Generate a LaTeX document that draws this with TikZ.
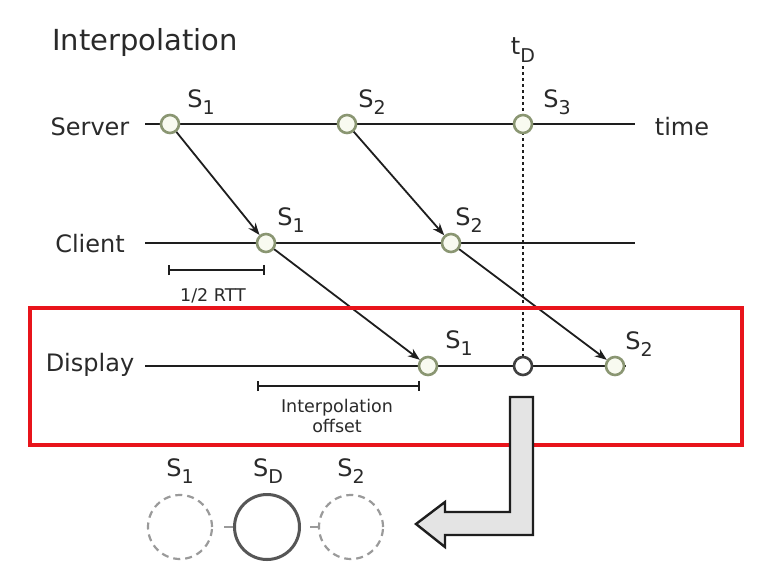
\documentclass[tikz,border=0pt]{standalone}
\usepackage{fontspec}
\setmainfont{DejaVu Sans}
\usetikzlibrary{arrows.meta}
\pgfdeclarelayer{bg}
\pgfsetlayers{bg,main}
\definecolor{txt}{HTML}{2A2A2A}
\definecolor{linec}{HTML}{1E1E1E}
\definecolor{cgreen}{HTML}{8A9672}
\definecolor{cfill}{HTML}{F8FAF0}
\definecolor{dgray}{HTML}{9A9A9A}
\definecolor{redbox}{HTML}{E8141B}
\definecolor{arrfill}{HTML}{E4E4E4}
\newcommand\subs[1]{\raisebox{-0.3em}{\fontsize{19}{19}\selectfont #1}}
\tikzset{
  lbl/.style={font=\fontsize{24}{28}\selectfont, text=txt, inner sep=0pt},
  ttl/.style={font=\fontsize{29}{32}\selectfont, text=txt, inner sep=0pt},
  small/.style={font=\fontsize{17.5}{22}\selectfont, text=txt, inner sep=0pt, align=center},
  sv/.style={circle, draw=cgreen, fill=cfill, line width=2.6pt, minimum size=18pt, inner sep=0pt},
  svd/.style={circle, draw=linec!85, fill=white, line width=2.6pt, minimum size=18pt, inner sep=0pt},
  timeline/.style={draw=linec, line width=2.6pt},
  msg/.style={draw=linec, line width=1.8pt, -{Stealth[length=12pt,width=9pt]}},
  bracket/.style={draw=linec, line width=1.8pt, |-|},
  ghost/.style={circle, draw=dgray, dash pattern=on 7pt off 5pt, line width=2.2pt, minimum size=64pt, inner sep=0pt},
  solidc/.style={circle, draw=linec!75, line width=3pt, minimum size=65pt, inner sep=0pt},
}
\begin{document}
\begin{tikzpicture}[x=1pt,y=-1pt]
\useasboundingbox (0,0) rectangle (759,584);

% title and row labels
\node[ttl] (title) at (145,42) {Interpolation};
\node[lbl] (server) at (90,127) {Server};
\node[lbl] (client) at (90,244) {Client};
\node[lbl] (display) at (90,365) {Display};
\node[lbl] (time) at (682,127) {time};
\node[lbl] (tD) at (523,50) {t\subs{D}};

% line end points
\coordinate (sL) at (145,124); \coordinate (sR) at (635,124);
\coordinate (cL) at (145,243); \coordinate (cR) at (635,243);
\coordinate (dL) at (145,366); \coordinate (dR) at (626,366);
\coordinate (dtop) at (523,66);

% circles
\node[sv] (s1) at (170,124) {};
\node[sv] (s2) at (347,124) {};
\node[sv] (s3) at (523,124) {};
\node[sv] (c1) at (266,243) {};
\node[sv] (c2) at (451,243) {};
\node[sv] (d1) at (428,366) {};
\node[svd] (dm) at (523,366) {};
\node[sv] (d2) at (615,366) {};

% labels of samples
\node[lbl] (ls1) at (201,102) {S\subs{1}};
\node[lbl] (ls2) at (372,102) {S\subs{2}};
\node[lbl] (ls3) at (557,102) {S\subs{3}};
\node[lbl] (lc1) at (291,220) {S\subs{1}};
\node[lbl] (lc2) at (469,220) {S\subs{2}};
\node[lbl] (ld1) at (459,343) {S\subs{1}};
\node[lbl] (ld2) at (639,344) {S\subs{2}};

\begin{pgfonlayer}{bg}
\fill[white] (0,0) rectangle (759,584);
\draw[timeline] (sL) -- (sR);
\draw[timeline] (cL) -- (cR);
\draw[timeline] (dL) -- (dR);
\draw[draw=linec, line width=1.3pt, dash pattern=on 3pt off 3pt] (dtop) -- (dm.center);
\end{pgfonlayer}

% messages
\draw[msg] (s1) -- (c1);
\draw[msg] (s2) -- (c2);
\draw[msg] (c1) -- (d1);
\draw[msg] (c2) -- (d2);

% brackets
\coordinate (r1) at (168,270); \coordinate (r2) at (265,270);
\draw[bracket] (r1) -- (r2);
\node[small] (rtt) at (213,296) {1/2 RTT};
\coordinate (o1) at (257,386); \coordinate (o2) at (420,386);
\draw[bracket] (o1) -- (o2);
\node[small] (off) at (337,416) {Interpolation\\[-2pt]offset};

% red highlight box
\draw[redbox, line width=3.8pt] (30,308) rectangle (742,445);

% L-shaped arrow
\draw[draw=linec, fill=arrfill, line width=2.4pt, line join=miter]
  (510,397) -- (533,397) -- (533,535) -- (445,535) -- (445,547) -- (416,524)
  -- (445,502) -- (445,512) -- (510,512) -- cycle;

% interpolated state
\node[ghost] (g1) at (180,527) {};
\node[solidc] (gD) at (267,527) {};
\node[ghost] (g2) at (351,527) {};
\draw[dgray, line width=2pt, shorten <=11pt] (g1) -- (gD);
\draw[dgray, line width=2pt, shorten <=9pt] (gD) -- (g2);
\node[lbl] (lg1) at (180,471) {S\subs{1}};
\node[lbl] (lgD) at (268,471) {S\subs{D}};
\node[lbl] (lg2) at (351,471) {S\subs{2}};
\end{tikzpicture}
\end{document}
